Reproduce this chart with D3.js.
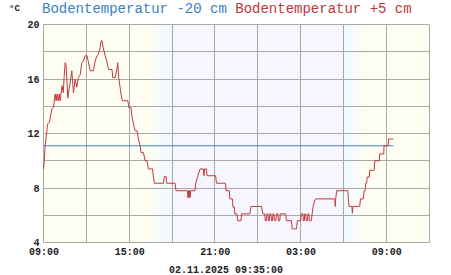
<!DOCTYPE html>
<html>
<head>
<meta charset="utf-8">
<script src="https://cdn.jsdelivr.net/npm/d3@7"></script>
<style>
  body { margin: 0; background: #fff; }
  svg { display: block; }
</style>
</head>
<body>
<svg></svg>
<script>
// minutes after 01.11.2025 09:00 and the soil temperature at +5 cm
let redMinutes = [
  0, 3, 7, 13, 17, 24, 28, 35, 42, 49,
  53, 57, 62, 66, 70, 74, 78, 83, 87, 91,
  95, 102, 108, 112, 119, 126, 133, 140, 147, 154,
  161, 167, 175, 183, 188, 196, 210, 217, 224, 230,
  238, 242, 246, 251, 259, 266, 273, 288, 291, 301,
  308, 312, 316, 325, 331, 355, 358, 368, 371, 378,
  385, 393, 399, 406, 410, 420, 427, 435, 441, 458,
  462, 466, 504, 508, 515, 518, 553, 557, 605, 607,
  609, 611, 613, 616, 618, 637, 639, 648, 658, 672,
  674, 677, 685, 687, 723, 727, 765, 767, 781, 783,
  794, 796, 802, 804, 813, 816, 830, 832, 867, 872,
  916, 922, 930, 932, 937, 939, 943, 945, 949, 951,
  956, 958, 962, 964, 968, 970, 976, 979, 985, 987,
  993, 995, 1018, 1021, 1042, 1045, 1063, 1067, 1081, 1083,
  1090, 1092, 1096, 1098, 1102, 1104, 1109, 1111, 1115, 1117,
  1125, 1129, 1133, 1140, 1144, 1224, 1226, 1228, 1232, 1279,
  1281, 1284, 1296, 1298, 1300, 1329, 1332, 1344, 1347, 1352,
  1354, 1358, 1360, 1369, 1371, 1390, 1392, 1411, 1413, 1430,
  1431, 1448, 1450, 1470]
let redTemps = [
  9.4, 10.0, 11.1, 12.0, 12.7, 12.8, 13.1, 13.8, 13.9, 14.9,
  14.4, 14.9, 14.4, 14.9, 14.4, 15.0, 15.5, 15.0, 16.2, 17.2,
  17.0, 14.6, 15.3, 15.7, 16.6, 15.0, 16.0, 15.4, 16.1, 16.3,
  17.2, 17.3, 17.7, 17.7, 17.3, 16.6, 16.6, 17.3, 17.7, 17.8,
  18.3, 18.8, 18.8, 18.3, 17.7, 17.3, 16.7, 16.7, 16.1, 16.1,
  16.7, 17.2, 16.1, 15.0, 14.4, 14.4, 13.9, 13.9, 13.3, 12.7,
  12.2, 12.2, 11.6, 11.1, 10.6, 10.6, 10.0, 10.0, 9.4, 9.4,
  8.8, 8.35, 8.35, 8.85, 8.85, 8.35, 8.35, 7.8, 7.8, 7.3,
  7.8, 7.3, 7.8, 7.3, 7.8, 7.8, 8.3, 8.85, 9.4, 9.4,
  8.9, 9.4, 9.4, 8.9, 8.9, 8.35, 8.35, 7.8, 7.8, 7.2,
  7.2, 6.6, 6.6, 6.1, 6.1, 5.6, 5.6, 6.1, 6.1, 6.65,
  6.65, 6.1, 6.1, 5.6, 5.6, 6.1, 6.1, 5.6, 5.6, 6.1,
  6.1, 5.6, 5.6, 6.1, 6.1, 5.6, 5.6, 6.1, 6.1, 5.6,
  5.6, 6.1, 6.1, 5.6, 5.6, 5.0, 5.0, 5.6, 5.6, 6.1,
  6.1, 5.6, 5.6, 6.1, 6.1, 5.6, 5.6, 6.1, 6.1, 5.6,
  5.6, 6.1, 6.65, 7.1, 7.2, 7.2, 6.65, 7.2, 7.8, 7.8,
  7.2, 6.65, 6.65, 6.15, 6.65, 6.65, 7.2, 7.2, 7.8, 7.8,
  8.35, 8.35, 8.8, 8.8, 9.3, 9.3, 10.0, 10.0, 10.5, 10.5,
  11.1, 11.1, 11.6, 11.6]

// soil temperature at -20 cm (flat)
let blueMinutes = [0, 1470]
let blueTemps = [11.1, 11.1]

let yTicks = [4, 8, 12, 16, 20]
// hours after start: labelled ticks and grid lines
let xLabelHours = [0, 6, 12, 18, 24]
let xGridHours = [0, 3, 6, 9, 12, 15, 18, 21, 24, 27]
let titleParts = ["Bodentemperatur -20 cm", "Bodentemperatur +5 cm"]
let stamp = "02.11.2025 09:35:00"
// dusk and dawn (minutes after start)
let twilight = [[450, 540], [1260, 1360]]

let width = 451
let height = 275
let padLeft = 43.5, padRight = 429, padTop = 24.5, padBottom = 242.5

let start = new Date(2025, 10, 1, 9, 0)
let end = new Date(2025, 10, 2, 12, 0)
let toDate = (m) => new Date(start.getTime() + m * 60000)

let svg = d3.select("svg").attr("width", width).attr("height", height)

let xScale = d3.scaleTime().domain([start, end]).range([padLeft, padRight])
let yScale = d3.scaleLinear().domain([4, 20]).range([padBottom, padTop])

// background: day / night
let defs = svg.append("defs")
let dayCol = "#fefef3", nightCol = "#f6f7fe"

let dusk = defs.append("linearGradient").attr("id", "dusk")
dusk.append("stop").attr("offset", "0%").attr("stop-color", dayCol)
dusk.append("stop").attr("offset", "55%").attr("stop-color", "#f3fcfa")
dusk.append("stop").attr("offset", "100%").attr("stop-color", nightCol)

let dawn = defs.append("linearGradient").attr("id", "dawn")
dawn.append("stop").attr("offset", "0%").attr("stop-color", "#eefaff")
dawn.append("stop").attr("offset", "100%").attr("stop-color", dayCol)

let plotH = padBottom - padTop
let band = (a, b, fill) => {
  svg.append("rect")
    .attr("x", xScale(toDate(a))).attr("y", padTop)
    .attr("width", xScale(toDate(b)) - xScale(toDate(a)))
    .attr("height", plotH)
    .attr("fill", fill)
}

svg.append("rect")
  .attr("x", padLeft).attr("y", padTop)
  .attr("width", padRight - padLeft).attr("height", plotH)
  .attr("fill", dayCol)
band(twilight[0][1], twilight[1][0], nightCol)
band(twilight[0][0], twilight[0][1], "url(#dusk)")
band(twilight[1][0], twilight[1][1], "url(#dawn)")

// grid
let gridCol = "#a9a9a9"
let snap = (v) => Math.round(v - 0.5) + 0.5

svg.append("g").selectAll("line")
  .data(d3.range(4, 21, 2))
  .enter().append("line")
  .attr("x1", padLeft).attr("x2", padRight)
  .attr("y1", (d) => snap(yScale(d))).attr("y2", (d) => snap(yScale(d)))
  .attr("stroke", gridCol).attr("stroke-width", 1)

svg.append("g").selectAll("line")
  .data(xGridHours.map((h) => toDate(h * 60)))
  .enter().append("line")
  .attr("x1", (d) => snap(xScale(d))).attr("x2", (d) => snap(xScale(d)))
  .attr("y1", padTop).attr("y2", padBottom)
  .attr("stroke", gridCol).attr("stroke-width", 1)

// lines
let line = d3.line()
  .x((d) => xScale(toDate(d[0])))
  .y((d) => yScale(d[1]))

svg.append("path")
  .datum(d3.zip(blueMinutes, blueTemps))
  .attr("d", line)
  .attr("fill", "none").attr("stroke", "#4a80bd").attr("stroke-width", 1)

svg.append("path")
  .datum(d3.zip(redMinutes, redTemps))
  .attr("d", line)
  .attr("fill", "none").attr("stroke", "#c0393d").attr("stroke-width", 1)

// axes
let font = "'Liberation Mono', 'DejaVu Sans Mono', monospace"

let xAxis = d3.axisBottom(xScale)
  .tickValues(xLabelHours.map((h) => toDate(h * 60)))
  .tickFormat(d3.timeFormat("%H:%M"))
  .tickSize(0).tickPadding(5)

let xg = svg.append("g")
  .attr("transform", "translate(0," + padBottom + ")")
  .call(xAxis)
xg.select(".domain").remove()
xg.selectAll("text")
  .attr("font-family", font).attr("font-size", 10).attr("font-weight", "bold").attr("fill", "#222")

let yAxis = d3.axisLeft(yScale)
  .tickValues(yTicks)
  .tickSize(0).tickPadding(4)

let yg = svg.append("g")
  .attr("transform", "translate(" + padLeft + ",0)")
  .call(yAxis)
yg.select(".domain").remove()
yg.selectAll("text")
  .attr("font-family", font).attr("font-size", 10).attr("font-weight", "bold").attr("fill", "#222")

// texts
svg.append("text")
  .attr("x", 9).attr("y", 11)
  .attr("font-family", font).attr("font-size", 9).attr("font-weight", "bold").attr("fill", "#222")
  .text("°C")

let title = svg.append("text")
  .attr("x", 42).attr("y", 13)
  .attr("font-family", font).attr("font-size", 14)
title.append("tspan").attr("fill", "#3a7fc0").text(titleParts[0] + " ")
title.append("tspan").attr("fill", "#c0353a").text(titleParts[1])

svg.append("text")
  .attr("x", 226).attr("y", 273)
  .attr("text-anchor", "middle")
  .attr("font-family", font).attr("font-size", 10).attr("font-weight", "bold").attr("fill", "#222")
  .text(stamp)
</script>
</body>
</html>
